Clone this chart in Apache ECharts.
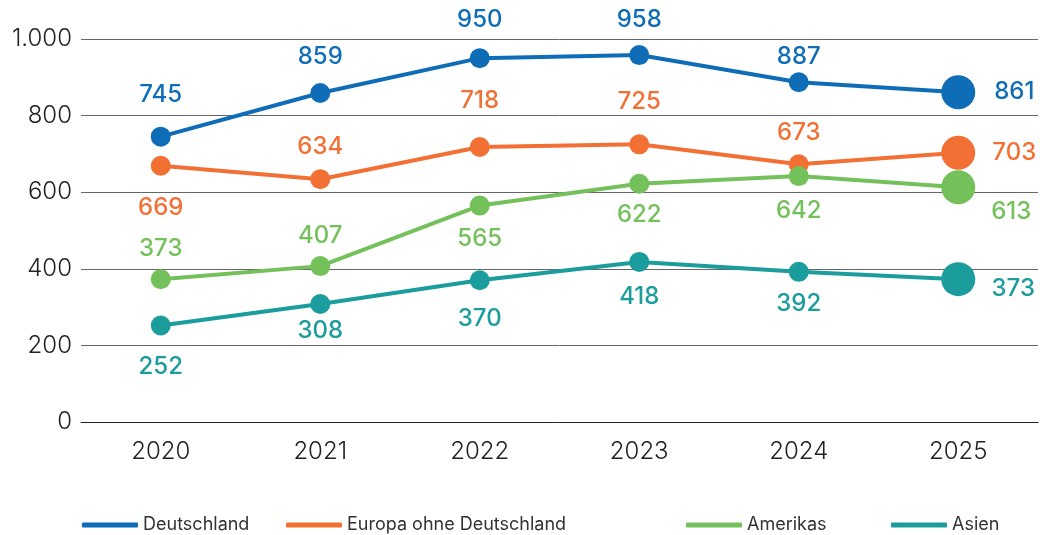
<!DOCTYPE html>
<html>
<head>
<meta charset="utf-8">
<script src="https://cdn.jsdelivr.net/npm/echarts@6/dist/echarts.min.js"></script>
<style>
  html, body { margin: 0; padding: 0; background: #fff; }
  #chart { width: 1040px; height: 535px; }
</style>
</head>
<body>
<div id="chart"></div>
<script>
// data
const years = ['2020', '2021', '2022', '2023', '2024', '2025']
const deutschland = [745, 859, 950, 958, 887, 861]
const europa = [669, 634, 718, 725, 673, 703]
const amerikas = [373, 407, 565, 622, 642, 613]
const asien = [252, 308, 370, 418, 392, 373]
const yTicks = [0, 200, 400, 600, 800, 1000]

// label offsets (dx, dy from point centre), style only
const offDe = [[0, -42], [0, -36], [0, -38], [0, -35], [0, -25], [56, 0]]
const offEu = [[0, 42], [0, -32], [0, -46], [0, -43], [0, -31], [56, 0]]
const offAm = [[0, -30], [0, -30], [0, 33], [0, 31], [0, 35], [53, 25]]
const offAs = [[0, 41], [0, 27], [0, 38], [0, 35], [0, 32], [55, 10]]

const FONT = 'Inter'
const colors = ['#0f6db7', '#f37034', '#74c15b', '#1b9c9d']

function buildSeries (name, values, color, offs) {
  return {
    name: name,
    type: 'line',
    symbol: 'circle',
    symbolSize: 20,
    lineStyle: { width: 4, color: color },
    itemStyle: { color: color },
    emphasis: { disabled: true },
    data: values.map((v, i) => ({
      value: v,
      symbolSize: i === values.length - 1 ? 34 : 20,
      label: {
        show: true,
        position: 'inside',
        offset: offs[i],
        color: color,
        fontFamily: FONT,
        fontWeight: 500,
        fontSize: 24
      }
    }))
  }
}

function legendAt (name, left, color) {
  return {
    data: [name],
    left: left,
    top: 511,
    icon: 'roundRect',
    itemWidth: 56,
    itemHeight: 5,
    itemGap: 13,
    selectedMode: false,
    itemStyle: { color: color },
    textStyle: { color: '#333', fontSize: 18, fontFamily: FONT }
  }
}

const chart = echarts.init(document.getElementById('chart'))
const option = {
  animation: false,
  color: colors,
  legend: [
    legendAt('Deutschland', 77, colors[0]),
    legendAt('Europa ohne Deutschland', 281, colors[1]),
    legendAt('Amerikas', 681, colors[2]),
    legendAt('Asien', 886, colors[3])
  ],
  grid: { left: 81, right: 2, top: 39, bottom: 113 },
  xAxis: {
    type: 'category',
    data: years,
    boundaryGap: true,
    axisTick: { show: false },
    axisLine: { show: true, lineStyle: { color: '#222', width: 1 } },
    axisLabel: { margin: 18, color: '#222', fontSize: 24, fontFamily: FONT, fontWeight: 300 }
  },
  yAxis: {
    type: 'value',
    min: yTicks[0],
    max: yTicks[yTicks.length - 1],
    interval: 200,
    axisLine: { show: false },
    axisTick: { show: false },
    splitLine: { lineStyle: { color: '#666', width: 1 } },
    axisLabel: {
      margin: 9,
      color: '#222',
      fontSize: 24,
      fontFamily: FONT,
      fontWeight: 300,
      formatter: v => v.toLocaleString('de-DE')
    }
  },
  series: [
    buildSeries('Deutschland', deutschland, colors[0], offDe),
    buildSeries('Europa ohne Deutschland', europa, colors[1], offEu),
    buildSeries('Amerikas', amerikas, colors[2], offAm),
    buildSeries('Asien', asien, colors[3], offAs)
  ]
}
chart.setOption(option)
</script>
</body>
</html>
